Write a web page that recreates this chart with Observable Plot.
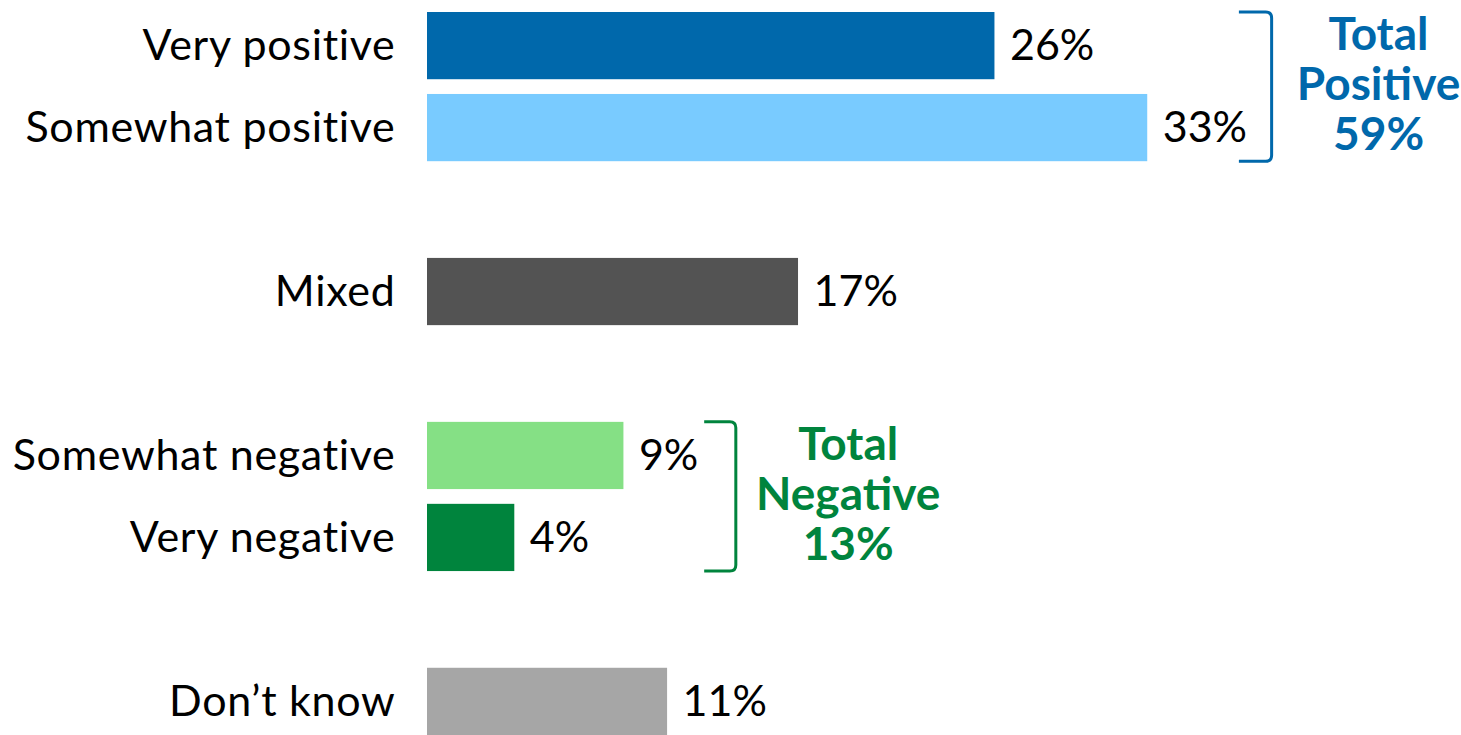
<!DOCTYPE html>
<html><head><meta charset="utf-8">
<script src="https://cdn.jsdelivr.net/npm/d3@7"></script>
<script src="https://cdn.jsdelivr.net/npm/@observablehq/plot@0.6"></script>
<style>body{margin:0;background:#fff;overflow:hidden;} svg{overflow:visible;}</style>
</head><body><div id="chart"></div>
<script>
// ---- data ----
const categories = ["Very positive", "Somewhat positive", "Mixed", "Somewhat negative", "Very negative", "Don’t know"];
const values = [26, 33, 17, 9, 4, 11];
const colors = ["#0068AB", "#79CBFF", "#535353", "#85E085", "#00843D", "#A6A6A6"];
const slots = ["Very positive", "Somewhat positive", "gap1", "Mixed", "gap2", "Somewhat negative", "Very negative", "gap3", "Don’t know"];
const groupNames = ["Total\nPositive", "Total\nNegative"];
const groupMembers = [["Very positive", "Somewhat positive"], ["Somewhat negative", "Very negative"]];
const groupColors = ["#0068AB", "#00843D"];

// ---- layout / style (not data) ----
const bracketLeft = [37.2, 12.7];
const bracketRight = [38.7, 14.15];
const groupTextX = [43.6, 19.3];
const FONT = "Lato, 'Open Sans', sans-serif";
const FS = 43;

const rows = categories.map((c, i) => ({category: c, value: values[i], color: colors[i]}));
const groups = groupNames.map((g, i) => {
  const total = d3.sum(groupMembers[i], m => values[categories.indexOf(m)]);
  return {label: g + "\n" + total + "%", first: groupMembers[i][0], last: groupMembers[i][groupMembers[i].length - 1],
          color: groupColors[i], left: bracketLeft[i], right: bracketRight[i], tx: groupTextX[i]};
});

const chart = Plot.plot({
  width: 1461,
  height: 735,
  marginLeft: 427,
  marginRight: 161,
  marginTop: 12,
  marginBottom: 0,
  style: {fontFamily: FONT, background: "#fff", color: "#000"},
  x: {domain: [0, 40], axis: null},
  y: {domain: slots, paddingInner: 0.18, paddingOuter: 0, round: false, axis: null},
  marks: [
    Plot.barX(rows, {x: "value", y: "category", fill: "color"}),
    Plot.text(rows, {x: "value", y: "category", text: d => d.value + "%", dx: 15, textAnchor: "start",
      fontSize: FS, fill: "#000"}),
    Plot.axisY({ticks: categories, tickSize: 0, tickPadding: 32, fontSize: FS, fill: "#000", label: null})
  ]
});
document.getElementById("chart").appendChild(chart);
d3.select(chart).selectAll("g[aria-label='y-axis tick label'] text").attr("letter-spacing", "0.7px");

// brackets and group totals placed with the chart's own scales
const xs = chart.scale("x"), ys = chart.scale("y");
const svg = d3.select(chart);
const r = 6;
groups.forEach(g => {
  const top = ys.apply(g.first);
  const bottom = ys.apply(g.last) + ys.bandwidth;
  const xl = xs.apply(g.left), xr = xs.apply(g.right);
  svg.append("path")
    .attr("d", `M${xl},${top}L${xr - r},${top}Q${xr},${top} ${xr},${top + r}L${xr},${bottom - r}Q${xr},${bottom} ${xr - r},${bottom}L${xl},${bottom}`)
    .attr("fill", "none").attr("stroke", g.color).attr("stroke-width", 3);
  const lines = g.label.split("\n");
  const mid = (top + bottom) / 2 - 3;
  const lh = 50;
  const t = svg.append("text")
    .attr("x", xs.apply(g.tx)).attr("text-anchor", "middle")
    .attr("fill", g.color).attr("font-weight", "bold").attr("font-size", 46).attr("font-family", FONT);
  lines.forEach((l, i) => {
    t.append("tspan").attr("x", xs.apply(g.tx)).attr("y", mid + (i - (lines.length - 1) / 2) * lh).attr("dy", "0.35em").text(l);
  });
});
</script>
</body></html>
